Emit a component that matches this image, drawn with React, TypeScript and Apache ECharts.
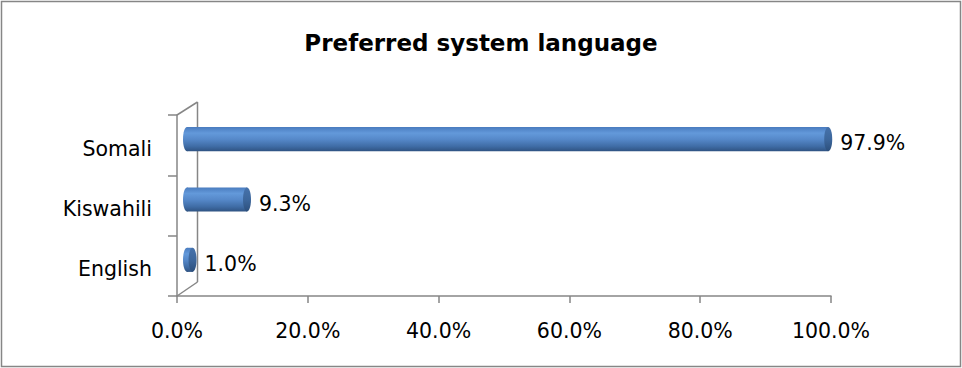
import React, { useEffect, useRef } from "react";
import * as echarts from "echarts";

const categories = ["English", "Kiswahili", "Somali"];
const shares = [1.0, 9.3, 97.9];
const xTicks = [0, 20, 40, 60, 80, 100];
const titleText = "Preferred system language";

const FONT = "DejaVu Sans";
const GRAY = "#868686";

export default function App() {
  const ref = useRef<HTMLDivElement>(null);
  useEffect(() => {
    if (!ref.current) return;
    const chart = echarts.init(ref.current, null, { renderer: "svg" });
    const barGradient = () =>
      new echarts.graphic.LinearGradient(0, 0, 0, 1, [
        { offset: 0, color: "#4a7cbf" },
        { offset: 0.25, color: "#6399da" },
        { offset: 0.5, color: "#5689ca" },
        { offset: 0.8, color: "#3f6ca5" },
        { offset: 1, color: "#2f5382" },
      ]);
    const capGradient = () =>
      new echarts.graphic.LinearGradient(0, 0, 0, 1, [
        { offset: 0, color: "#4672ab" },
        { offset: 0.5, color: "#3d679c" },
        { offset: 1, color: "#2c4f7c" },
      ]);
    const option: any = {
      animation: false,
      backgroundColor: "#ffffff",
      title: {
        text: titleText,
        left: "center",
        top: 24,
        textStyle: {
          fontFamily: FONT,
          fontSize: 23,
          fontWeight: "bold",
          color: "#000",
          lineHeight: 28,
        },
      },
      grid: [
        { left: 177, right: 131, top: 115, height: 181 },
        { left: 190, width: 656, top: 109, height: 181 },
      ],
      xAxis: [
        {
          type: "value",
          gridIndex: 0,
          min: 0,
          max: 100,
          interval: 20,
          splitLine: { show: false },
          axisLine: { show: true, lineStyle: { color: GRAY, width: 1.5 } },
          axisTick: { show: true, length: 7, lineStyle: { color: GRAY, width: 1.5 } },
          axisLabel: {
            margin: 24,
            fontFamily: FONT,
            fontSize: 20.5,
            color: "#000",
            formatter: (v: number) => (xTicks.includes(v) ? v.toFixed(1) + "%" : ""),
          },
        },
        {
          type: "value",
          gridIndex: 1,
          min: 0,
          max: 100,
          show: false,
        },
      ],
      yAxis: [
        {
          type: "category",
          gridIndex: 0,
          data: categories,
          axisLine: { show: true, lineStyle: { color: GRAY, width: 1.5 } },
          axisTick: { show: true, length: 9, lineStyle: { color: GRAY, width: 1.5 } },
          axisLabel: {
            margin: 25,
            color: "#000",
            formatter: (v: string) => "{c|" + v + "}",
            rich: {
              c: {
                fontFamily: FONT,
                fontSize: 20.5,
                color: "#000",
                padding: [7, 0, 0, 0],
              },
            },
          },
        },
        {
          type: "category",
          gridIndex: 1,
          data: categories,
          show: false,
        },
      ],
      graphic: [
        {
          type: "rect",
          shape: { x: 1.5, y: 1.5, width: 959, height: 365 },
          style: { fill: "none", stroke: GRAY, lineWidth: 1.5 },
          z: 0,
        },
        {
          type: "line",
          shape: { x1: 197.5, y1: 102, x2: 197.5, y2: 282 },
          style: { stroke: GRAY, lineWidth: 1.5 },
          z: 1,
        },
        {
          type: "line",
          shape: { x1: 177, y1: 115, x2: 197.5, y2: 102 },
          style: { stroke: GRAY, lineWidth: 1.5 },
          z: 1,
        },
        {
          type: "line",
          shape: { x1: 177, y1: 296, x2: 197.5, y2: 282 },
          style: { stroke: GRAY, lineWidth: 1.5 },
          z: 1,
        },
      ],
      series: [
        {
          type: "custom",
          xAxisIndex: 1,
          yAxisIndex: 1,
          encode: { x: 0, y: 1 },
          data: shares.map((v, i) => [v, i]),
          z: 5,
          renderItem: (params: any, api: any) => {
            const v = api.value(0);
            const idx = api.value(1);
            const start = api.coord([0, idx]);
            const end = api.coord([v, idx]);
            const band = api.size([0, 1])[1];
            const h = band * 0.4;
            const rx = 4;
            const depth = 7;
            const cy = start[1];
            const x0 = start[0] - depth;
            const x1 = Math.max(end[0] - rx, x0 + rx);
            return {
              type: "group",
              children: [
                {
                  type: "ellipse",
                  shape: { cx: x0 + rx, cy, rx, ry: h / 2 },
                  style: { fill: barGradient() },
                },
                {
                  type: "rect",
                  shape: { x: x0 + rx, y: cy - h / 2, width: x1 - x0 - rx, height: h },
                  style: { fill: barGradient() },
                },
                {
                  type: "ellipse",
                  shape: { cx: x1, cy, rx, ry: h / 2 },
                  style: { fill: capGradient() },
                },
                {
                  type: "text",
                  style: {
                    x: x1 + rx + 8,
                    y: cy + 4,
                    text: v.toFixed(1) + "%",
                    fontFamily: FONT,
                    fontSize: 20.5,
                    fill: "#000",
                    verticalAlign: "middle",
                    align: "left",
                  },
                },
              ],
            };
          },
        },
      ],
    };
    chart.setOption(option);
    return () => chart.dispose();
  }, []);
  return (
    <div
      ref={ref}
      style={{ position: "fixed", left: 0, top: 0, width: 962, height: 368 }}
    />
  );
}
